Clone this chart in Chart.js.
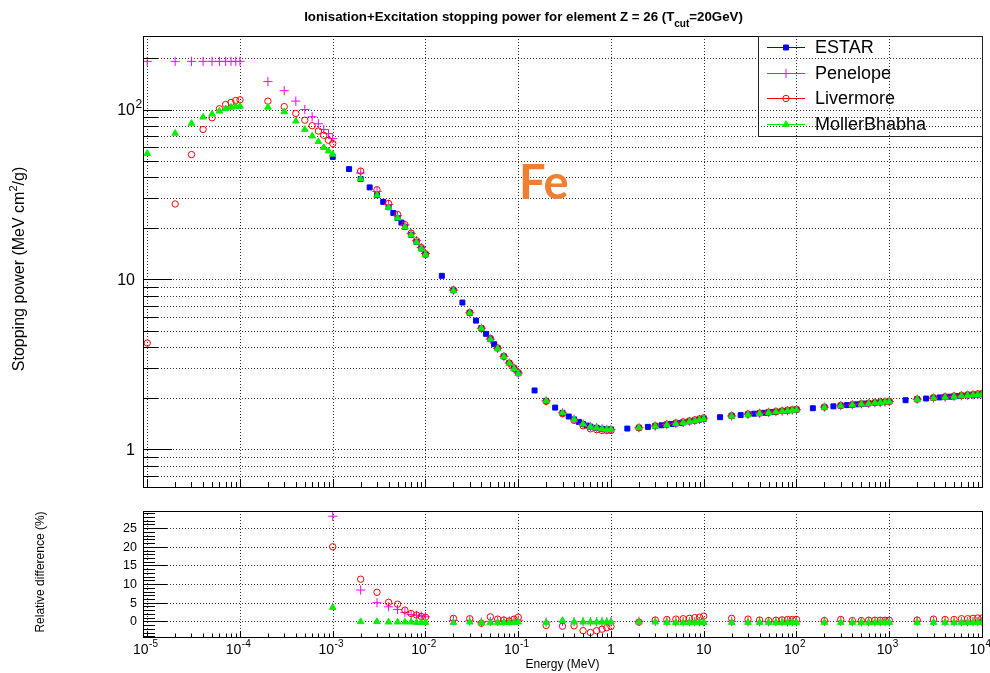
<!DOCTYPE html>
<html>
<head>
<meta charset="utf-8">
<title>Fe stopping power</title>
<script src="https://cdn.jsdelivr.net/npm/chart.js@4.4.1/dist/chart.umd.min.js"></script>
<style>
  html, body { margin: 0; padding: 0; background: #fff; }
  #wrap { position: relative; width: 990px; height: 673px; }
  #wrap canvas { position: absolute; left: 0; top: 0; }
</style>
</head>
<body>
<div id="wrap">
  <canvas id="diffChart" width="990" height="673" style="width:990px;height:673px"></canvas>
  <canvas id="powerChart" width="990" height="673" style="width:990px;height:673px"></canvas>
</div>
<script>
// ---- data (MeV, MeV cm2/g, %) ----
const modelEnergy = [
  1e-5, 2e-5, 3e-5, 4e-5, 5e-5, 6e-5, 7e-5, 8e-5, 9e-5,
  1e-4, 2e-4, 3e-4, 4e-4, 5e-4, 6e-4, 7e-4, 8e-4, 9e-4,
  1e-3, 2e-3, 3e-3, 4e-3, 5e-3, 6e-3, 7e-3, 8e-3, 9e-3,
  0.01, 0.02, 0.03, 0.04, 0.05, 0.06, 0.07, 0.08, 0.09,
  0.1, 0.2, 0.3, 0.4, 0.5, 0.6, 0.7, 0.8, 0.9,
  1, 2, 3, 4, 5, 6, 7, 8, 9,
  10, 20, 30, 40, 50, 60, 70, 80, 90,
  100, 200, 300, 400, 500, 600, 700, 800, 900,
  1000, 2000, 3000, 4000, 5000, 6000, 7000, 8000, 9000,
  10000
];

const estarEnergy = [
  0.001, 0.0015, 0.002, 0.0025, 0.003, 0.0035, 0.004, 0.0045, 0.005, 0.0055, 0.006, 0.007, 0.008, 0.009,
  0.01, 0.015, 0.02, 0.025, 0.03, 0.035, 0.04, 0.045, 0.05, 0.055, 0.06, 0.07, 0.08, 0.09,
  0.1, 0.15, 0.2, 0.25, 0.3, 0.35, 0.4, 0.45, 0.5, 0.55, 0.6, 0.7, 0.8, 0.9,
  1, 1.5, 2, 2.5, 3, 3.5, 4, 4.5, 5, 5.5, 6, 7, 8, 9,
  10, 15, 20, 25, 30, 35, 40, 45, 50, 55, 60, 70, 80, 90,
  100, 150, 200, 250, 300, 350, 400, 450, 500, 550, 600, 700, 800, 900,
  1000, 1500, 2000, 2500, 3000, 3500, 4000, 4500, 5000, 5500, 6000, 7000, 8000, 9000,
  10000
];

const estarPower = [
  52.6, 44.6, 39.0, 34.8, 31.3, 28.6, 26.6, 24.6, 23.0, 21.6, 20.4, 18.3, 16.6, 15.2,
  14.0, 10.5, 8.62, 7.31, 6.35, 5.72, 5.17, 4.78, 4.45, 4.16, 3.93, 3.52, 3.22, 2.99,
  2.80, 2.22, 1.93, 1.76, 1.64, 1.56, 1.50, 1.45, 1.41, 1.38, 1.36, 1.34, 1.32, 1.31,
  1.31, 1.325, 1.34, 1.355, 1.37, 1.385, 1.40, 1.41, 1.42, 1.43, 1.44, 1.46, 1.475, 1.495,
  1.51, 1.545, 1.57, 1.59, 1.605, 1.62, 1.63, 1.64, 1.65, 1.658, 1.665, 1.68, 1.69, 1.70,
  1.71, 1.745, 1.77, 1.79, 1.805, 1.82, 1.83, 1.84, 1.85, 1.858, 1.865, 1.88, 1.89, 1.90,
  1.91, 1.945, 1.97, 1.99, 2.005, 2.02, 2.03, 2.04, 2.05, 2.058, 2.065, 2.08, 2.09, 2.10,
  2.11
];

const penelopePower = [
  192, 192, 192, 192, 192, 192, 192, 192, 192,
  192, 146, 129, 112, 100, 90.6, 82.4, 76.3, 72.1,
  67.4, 42.3, 32.9, 27.6, 23.7, 20.9, 18.6, 16.9, 15.4,
  14.2, 8.64, 6.36, 5.16, 4.45, 3.93, 3.52, 3.22, 3.00,
  2.81, 1.93, 1.64, 1.50, 1.41, 1.36, 1.34, 1.32, 1.31,
  1.31, 1.34, 1.37, 1.40, 1.42, 1.44, 1.46, 1.475, 1.495,
  1.51, 1.57, 1.605, 1.63, 1.65, 1.665, 1.68, 1.69, 1.70,
  1.71, 1.77, 1.805, 1.83, 1.85, 1.865, 1.88, 1.89, 1.90,
  1.91, 1.97, 2.005, 2.03, 2.05, 2.065, 2.08, 2.09, 2.10,
  2.11
];

const livermorePower = [
  4.22, 27.8, 54.3, 76.3, 89.4, 101, 107, 110, 113,
  114, 112, 104, 94.8, 86.5, 80.3, 74.7, 70.5, 65.9,
  63.1, 43.4, 33.7, 28.0, 24.1, 21.0, 18.7, 16.9, 15.4,
  14.15, 8.69, 6.39, 5.14, 4.50, 3.95, 3.53, 3.22, 3.01,
  2.83, 1.915, 1.62, 1.48, 1.375, 1.32, 1.305, 1.29, 1.29,
  1.29, 1.34, 1.375, 1.405, 1.43, 1.45, 1.47, 1.49, 1.51,
  1.53, 1.58, 1.615, 1.635, 1.655, 1.67, 1.685, 1.70, 1.71,
  1.72, 1.775, 1.815, 1.835, 1.855, 1.87, 1.885, 1.895, 1.905,
  1.915, 1.975, 2.015, 2.04, 2.06, 2.08, 2.095, 2.105, 2.12,
  2.13
];

const mollerPower = [
  55.1, 72.4, 82.8, 90.2, 93.9, 97.8, 101, 103, 104,
  104.5, 103, 97.0, 85.4, 76.3, 69.8, 64.7, 59.7, 57.0,
  54.5, 39.0, 31.3, 26.5, 22.95, 20.35, 18.25, 16.55, 15.15,
  13.96, 8.60, 6.34, 5.15, 4.44, 3.92, 3.51, 3.21, 2.98,
  2.79, 1.925, 1.64, 1.497, 1.407, 1.357, 1.337, 1.317, 1.307,
  1.307, 1.337, 1.367, 1.396, 1.416, 1.436, 1.456, 1.471, 1.491,
  1.506, 1.565, 1.60, 1.625, 1.645, 1.66, 1.675, 1.685, 1.695,
  1.705, 1.765, 1.80, 1.825, 1.845, 1.86, 1.875, 1.885, 1.895,
  1.905, 1.965, 2.00, 2.025, 2.045, 2.06, 2.075, 2.085, 2.095,
  2.105
];

const diffEnergy = [
  1e-3, 2e-3, 3e-3, 4e-3, 5e-3, 6e-3, 7e-3, 8e-3, 9e-3,
  0.01, 0.02, 0.03, 0.04, 0.05, 0.06, 0.07, 0.08, 0.09,
  0.1, 0.2, 0.3, 0.4, 0.5, 0.6, 0.7, 0.8, 0.9,
  1, 2, 3, 4, 5, 6, 7, 8, 9,
  10, 20, 30, 40, 50, 60, 70, 80, 90,
  100, 200, 300, 400, 500, 600, 700, 800, 900,
  1000, 2000, 3000, 4000, 5000, 6000, 7000, 8000, 9000,
  10000
];

const penelopeDiff = [
  28.2, 8.4, 5.0, 3.9, 3.2, 2.4, 1.8, 1.6, 1.4,
  1.2, 0.2, 0.1, -0.2, 0.0, 0.0, 0.1, 0.1, 0.2,
  0.3, -0.2, 0.0, -0.1, -0.1, -0.1, -0.1, -0.1, -0.1,
  -0.1, 0.0, 0.0, -0.1, -0.1, -0.1, -0.1, -0.1, -0.1,
  -0.1, 0.0, -0.1, -0.1, -0.1, -0.1, -0.1, -0.1, -0.1,
  -0.1, 0.0, 0.0, -0.1, -0.1, -0.1, -0.1, -0.1, -0.1,
  -0.1, 0.0, 0.0, -0.1, -0.1, -0.1, -0.1, -0.1, -0.1,
  -0.1
];

const livermoreDiff = [
  20.0, 11.3, 7.8, 5.1, 4.6, 3.0, 2.1, 1.7, 1.3,
  1.1, 0.8, 0.7, -0.5, 1.2, 0.6, 0.35, 0.1, 0.6,
  1.1, -1.1, -1.3, -1.2, -2.5, -3.0, -2.5, -2.1, -1.7,
  -1.4, -0.2, 0.35, 0.5, 0.6, 0.7, 0.8, 1.0, 1.1,
  1.4, 0.8, 0.6, 0.35, 0.2, 0.3, 0.4, 0.5, 0.5,
  0.5, 0.2, 0.5, 0.2, 0.2, 0.3, 0.3, 0.3, 0.3,
  0.3, 0.35, 0.6, 0.5, 0.5, 0.7, 0.7, 0.8, 0.9,
  0.9
];

const mollerDiff = [
  3.7, -0.1, -0.1, -0.2, -0.2, -0.2, -0.2, -0.3, -0.3,
  -0.3, -0.3, -0.2, -0.3, -0.3, -0.3, -0.3, -0.3, -0.3,
  -0.2, -0.3, 0.2, -0.2, -0.2, -0.2, -0.2, -0.2, -0.2,
  -0.2, -0.2, -0.2, -0.3, -0.3, -0.3, -0.3, -0.3, -0.3,
  -0.3, -0.3, -0.3, -0.3, -0.3, -0.3, -0.3, -0.3, -0.3,
  -0.3, -0.3, -0.3, -0.3, -0.3, -0.3, -0.3, -0.3, -0.3,
  -0.3, -0.3, -0.3, -0.3, -0.3, -0.3, -0.3, -0.3, -0.3,
  -0.3
];

const seriesNames = ['ESTAR', 'Penelope', 'Livermore', 'MollerBhabha'];

// axis labels: [mantissa, exponent]
const energyTicks = [1e-5, 1e-4, 1e-3, 1e-2, 1e-1, 1, 10, 100, 1000, 10000];
const energyTickLabels = [['10', '-5'], ['10', '-4'], ['10', '-3'], ['10', '-2'], ['10', '-1'],
  ['1', ''], ['10', ''], ['10', '2'], ['10', '3'], ['10', '4']];
const powerTicks = [1, 10, 100];
const powerTickLabels = [['1', ''], ['10', ''], ['10', '2']];
const diffTicks = [0, 5, 10, 15, 20, 25];
const diffTickLabels = ['0', '5', '10', '15', '20', '25'];

// ---- styling ----
const FONT = '"Liberation Sans", Arial, Helvetica, sans-serif';
const styles = {
  ESTAR:        { color: '#0000ff', shape: 'rect',     radius: 3.5, fill: true },
  Penelope:     { color: '#ff00ff', shape: 'cross',    radius: 4.6, fill: false },
  Livermore:    { color: '#ff0000', shape: 'circle',   radius: 3.2, fill: false },
  MollerBhabha: { color: '#00f000', shape: 'triangle', radius: 3.8, fill: true }
};

function scatterSet(name, xs, ys, order) {
  const st = styles[name];
  return {
    label: name,
    order: order,
    data: xs.map((e, i) => ({ x: e, y: ys[i] })),
    showLine: false,
    pointStyle: st.shape,
    pointRadius: st.radius,
    pointBorderWidth: 1,
    pointBackgroundColor: st.fill ? st.color : 'rgba(0,0,0,0)',
    pointBorderColor: st.color,
    backgroundColor: st.fill ? st.color : 'rgba(0,0,0,0)',
    borderColor: st.color
  };
}

const snap = v => Math.round(v) + 0.5;
function hline(ctx, x1, x2, y) { ctx.beginPath(); ctx.moveTo(x1, y); ctx.lineTo(x2, y); ctx.stroke(); }
function vline(ctx, x, y1, y2) { ctx.beginPath(); ctx.moveTo(x, y1); ctx.lineTo(x, y2); ctx.stroke(); }
function isDecade(v) { const l = Math.log10(v); return Math.abs(l - Math.round(l)) < 1e-9; }

// 1..9 x 10^n steps inside [lo, hi]
function logSteps(lo, hi) {
  const out = [];
  for (let e = Math.floor(Math.log10(lo)); e <= Math.ceil(Math.log10(hi)); e++) {
    for (let m = 1; m <= 9; m++) {
      const v = m * Math.pow(10, e);
      if (v >= lo * 0.999999 && v <= hi * 1.000001) out.push(v);
    }
  }
  return out;
}

function dotted(ctx) {
  ctx.strokeStyle = 'rgba(0,0,0,0.8)';
  ctx.lineWidth = 1;
  ctx.setLineDash([1, 2]);
}

function drawFrame(chart) {
  const { ctx, chartArea: a } = chart;
  ctx.save();
  ctx.setLineDash([]);
  ctx.strokeStyle = '#000';
  ctx.lineWidth = 1;
  ctx.strokeRect(Math.round(a.left) + 0.5, Math.round(a.top) + 0.5,
    Math.round(a.right) - Math.round(a.left), Math.round(a.bottom) - Math.round(a.top));
  ctx.restore();
}

// "10" with a raised exponent, like ROOT axis labels
function powerLabel(ctx, base, exp, x, y, size, align) {
  const expSize = Math.round(size * 0.72);
  ctx.font = size + 'px ' + FONT;
  const wb = ctx.measureText(base).width;
  ctx.font = expSize + 'px ' + FONT;
  const we = exp ? ctx.measureText(exp).width : 0;
  let left = x;
  if (align === 'center') left = x - (wb + we) / 2 - (exp ? 2 : 0);
  else if (align === 'right') left = x - wb;
  ctx.textAlign = 'left';
  ctx.textBaseline = 'alphabetic';
  ctx.font = size + 'px ' + FONT;
  ctx.fillText(base, left, y);
  if (exp) {
    ctx.font = expSize + 'px ' + FONT;
    ctx.fillText(exp, left + wb + 0.5, y - size * 0.48);
  }
}

function drawMarker(ctx, name, x, y) {
  const st = styles[name];
  const r = st.radius;
  ctx.save();
  ctx.setLineDash([]);
  ctx.lineWidth = 1;
  ctx.strokeStyle = st.color;
  ctx.fillStyle = st.color;
  ctx.beginPath();
  if (st.shape === 'rect') {
    const s = r * Math.SQRT1_2;
    ctx.rect(x - s, y - s, 2 * s, 2 * s);
    ctx.fill(); ctx.stroke();
  } else if (st.shape === 'cross') {
    ctx.moveTo(x, y - r); ctx.lineTo(x, y + r);
    ctx.moveTo(x - r, y); ctx.lineTo(x + r, y);
    ctx.stroke();
  } else if (st.shape === 'circle') {
    ctx.arc(x, y, r, 0, Math.PI * 2);
    ctx.stroke();
  } else {
    ctx.moveTo(x, y - r);
    ctx.lineTo(x + r * 0.866, y + r * 0.5);
    ctx.lineTo(x - r * 0.866, y + r * 0.5);
    ctx.closePath();
    ctx.fill(); ctx.stroke();
  }
  ctx.restore();
}

// ---- upper pad: stopping power ----
const powerDecor = {
  id: 'powerDecor',
  beforeDatasetsDraw(chart) {
    const { ctx, chartArea: a, scales: { x, y } } = chart;
    ctx.save();
    dotted(ctx);
    energyTicks.forEach(v => {
      const p = snap(x.getPixelForValue(v));
      if (p > a.left + 2 && p < a.right - 2) vline(ctx, p, a.top, a.bottom);
    });
    logSteps(y.min, y.max).forEach(v => {
      const p = snap(y.getPixelForValue(v));
      if (p > a.top + 2 && p < a.bottom - 2) hline(ctx, a.left, a.right, p);
    });
    ctx.restore();
  },
  afterDatasetsDraw(chart) {
    const { ctx, chartArea: a, scales: { x, y } } = chart;
    drawFrame(chart);
    ctx.save();
    ctx.setLineDash([]);
    ctx.strokeStyle = '#000';
    ctx.lineWidth = 1;
    logSteps(x.min, x.max).forEach(v => {
      const p = snap(x.getPixelForValue(v));
      if (p <= a.left + 1) return;
      vline(ctx, p, a.bottom, a.bottom - (isDecade(v) ? 8 : 5));
    });
    logSteps(y.min, y.max).forEach(v => {
      const p = snap(y.getPixelForValue(v));
      hline(ctx, a.left, a.left + (isDecade(v) ? 29 : 15), p);
    });

    ctx.fillStyle = '#000';
    powerTicks.forEach((v, i) => {
      const p = y.getPixelForValue(v);
      powerLabel(ctx, powerTickLabels[i][0], powerTickLabels[i][1], 135, p + 5.8, 16, 'right');
    });

    // title
    const t1 = 'Ionisation+Excitation stopping power for element Z = 26 (T';
    const tSub = 'cut';
    const t2 = '=20GeV)';
    ctx.font = 'bold 13.3px ' + FONT;
    const w1 = ctx.measureText(t1).width, w2 = ctx.measureText(t2).width;
    ctx.font = 'bold 10px ' + FONT;
    const ws = ctx.measureText(tSub).width;
    let tx = 523.5 - (w1 + ws + w2) / 2;
    ctx.textAlign = 'left';
    ctx.textBaseline = 'alphabetic';
    ctx.font = 'bold 13.3px ' + FONT;
    ctx.fillText(t1, tx, 21);
    ctx.font = 'bold 10px ' + FONT;
    ctx.fillText(tSub, tx + w1, 26.5);
    ctx.font = 'bold 13.3px ' + FONT;
    ctx.fillText(t2, tx + w1 + ws, 21);

    // y axis title
    ctx.save();
    ctx.translate(24, 269);
    ctx.rotate(-Math.PI / 2);
    const y1 = 'Stopping power (MeV cm', y2 = '/g)';
    ctx.font = '16px ' + FONT;
    const wy1 = ctx.measureText(y1).width, wy2 = ctx.measureText(y2).width;
    ctx.font = '11px ' + FONT;
    const wsup = ctx.measureText('2').width;
    let yx = -(wy1 + wsup + wy2) / 2;
    ctx.font = '16px ' + FONT;
    ctx.fillText(y1, yx, 0);
    ctx.font = '11px ' + FONT;
    ctx.fillText('2', yx + wy1, -7);
    ctx.font = '16px ' + FONT;
    ctx.fillText(y2, yx + wy1 + wsup, 0);
    ctx.restore();

    // element tag
    ctx.font = 'bold 47px Lato, "Open Sans", ' + FONT;
    ctx.fillStyle = '#f07f32';
    ctx.fillText('Fe', 519, 199);

    // legend
    ctx.strokeStyle = '#222';
    ctx.strokeRect(758.5, 36.5, 224, 100);
    const rowY = [47, 72.7, 98.3, 124];
    seriesNames.forEach((name, i) => {
      const ry = snap(rowY[i]) - 0.5;
      ctx.strokeStyle = styles[name].color;
      ctx.lineWidth = 1;
      hline(ctx, 767, 805, snap(rowY[i]));
      drawMarker(ctx, name, 786, ry + 0.5);
      ctx.fillStyle = '#000';
      ctx.font = '18px ' + FONT;
      ctx.textBaseline = 'middle';
      ctx.fillText(name, 815, ry + 1);
    });
    ctx.restore();
  }
};

// ---- lower pad: relative difference ----
const diffDecor = {
  id: 'diffDecor',
  beforeDatasetsDraw(chart) {
    const { ctx, chartArea: a, scales: { x, y } } = chart;
    ctx.save();
    dotted(ctx);
    energyTicks.forEach(v => {
      const p = snap(x.getPixelForValue(v));
      if (p > a.left + 2 && p < a.right - 2) vline(ctx, p, a.top, a.bottom);
    });
    diffTicks.forEach(v => {
      const p = snap(y.getPixelForValue(v));
      hline(ctx, a.left, a.right, p);
    });
    ctx.restore();
  },
  afterDatasetsDraw(chart) {
    const { ctx, chartArea: a, scales: { x, y } } = chart;
    drawFrame(chart);
    ctx.save();
    ctx.setLineDash([]);
    ctx.strokeStyle = '#000';
    ctx.lineWidth = 1;
    logSteps(x.min, x.max).forEach(v => {
      const p = snap(x.getPixelForValue(v));
      if (p <= a.left + 1) return;
      vline(ctx, p, a.bottom, a.bottom - (isDecade(v) ? 6 : 3.5));
    });
    for (let v = Math.ceil(y.min); v <= Math.floor(y.max); v++) {
      const p = snap(y.getPixelForValue(v));
      hline(ctx, a.left, a.left + (v % 5 === 0 ? 24 : 12), p);
    }

    ctx.fillStyle = '#000';
    energyTicks.forEach((v, i) => {
      const p = x.getPixelForValue(v);
      powerLabel(ctx, energyTickLabels[i][0], energyTickLabels[i][1], p, 654, 14, 'center');
    });
    ctx.font = '12.5px ' + FONT;
    ctx.textAlign = 'right';
    ctx.textBaseline = 'middle';
    diffTicks.forEach((v, i) => {
      ctx.fillText(diffTickLabels[i], 137, y.getPixelForValue(v) + 0.5);
    });

    ctx.textAlign = 'center';
    ctx.textBaseline = 'middle';
    ctx.font = '12px ' + FONT;
    ctx.fillText('Energy (MeV)', (a.left + a.right) / 2, 665);

    ctx.save();
    ctx.translate(41, 572);
    ctx.rotate(-Math.PI / 2);
    ctx.fillText('Relative difference (%)', 0, 0);
    ctx.restore();
    ctx.restore();
  }
};

const common = {
  responsive: false,
  animation: false,
  events: [],
  plugins: { legend: { display: false }, tooltip: { enabled: false } }
};

new Chart(document.getElementById('powerChart'), {
  type: 'scatter',
  data: {
    datasets: [
      scatterSet('ESTAR', estarEnergy, estarPower, 4),
      scatterSet('Penelope', modelEnergy, penelopePower, 3),
      scatterSet('Livermore', modelEnergy, livermorePower, 2),
      scatterSet('MollerBhabha', modelEnergy, mollerPower, 1)
    ]
  },
  options: Object.assign({}, common, {
    layout: { padding: { left: 143, top: 36, right: 8, bottom: 186 } },
    scales: {
      x: { type: 'logarithmic', min: 9e-6, max: 1e4, display: false },
      y: { type: 'logarithmic', min: 0.624, max: 270.8, display: false }
    }
  }),
  plugins: [powerDecor]
});

new Chart(document.getElementById('diffChart'), {
  type: 'scatter',
  data: {
    datasets: [
      scatterSet('Penelope', diffEnergy, penelopeDiff, 3),
      scatterSet('Livermore', diffEnergy, livermoreDiff, 2),
      scatterSet('MollerBhabha', diffEnergy, mollerDiff, 1)
    ]
  },
  options: Object.assign({}, common, {
    layout: { padding: { left: 143, top: 511, right: 8, bottom: 36 } },
    scales: {
      x: { type: 'logarithmic', min: 9e-6, max: 1e4, display: false },
      y: { type: 'linear', min: -4.2, max: 29.6, display: false }
    }
  }),
  plugins: [diffDecor]
});
</script>
</body>
</html>
